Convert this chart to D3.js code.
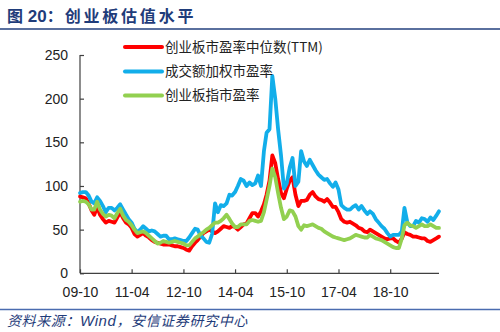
<!DOCTYPE html>
<html><head><meta charset="utf-8">
<script src="https://cdn.jsdelivr.net/npm/d3@7"></script>
<style>
html,body{margin:0;padding:0;background:#fff;}
svg{display:block;}
</style></head>
<body>
<script>
// ---- data (monthly, starting 2009-10) ----
const startMonth = "2009-10";
const medianPE = [88,87,86,80,72,67,76,67,62,58,60,59,58,64,70,63,58,56,52,45,42,44,46,43,41,38,36,35,34,33,33,33,32,31,31,30,29,27,26,31,35,38,42,46,48,50,48,46,48,51,54,53,52,54,53,50,53,56,57,63,69,69,65,71,79,90,106,135,126,108,92,86,97,106,110,90,77,83,83,84,90,93,88,85,84,82,85,81,76,76,70,62,59,58,59,57,55,52,51,48,47,50,48,46,44,42,40,39,40,40,37,35,40,47,45,44,42,42,41,40,40,37,36,38,40,42];
const turnoverPE = [92,93,93,89,82,80,87,83,77,70,75,75,72,75,79,73,67,62,58,51,47,50,54,51,48,49,48,45,42,43,43,39,39,40,39,38,37,37,41,46,51,50,43,40,36,35,45,80,70,78,77,80,90,89,93,100,108,106,100,104,101,103,112,100,140,161,165,226,200,165,135,97,103,121,132,100,105,140,128,123,130,124,118,113,110,107,108,103,99,104,96,78,75,73,73,76,78,73,77,72,68,71,68,62,58,54,51,46,42,44,44,44,48,75,58,54,54,60,58,63,62,59,64,61,66,71];
const indexPE = [82,83,82,79,73,73,82,73,68,65,67,66,63,69,74,66,61,59,55,50,46,47,48,46,43,40,37,34,35,37,36,35,36,37,36,35,34,32,32,36,40,42,45,47,50,52,55,58,58,60,63,67,62,57,53,53,56,56,56,60,61,60,59,60,70,84,100,120,110,92,75,62,65,72,71,65,54,50,55,54,55,56,54,52,51,48,46,44,42,41,40,39,38,39,40,42,44,43,42,41,41,44,42,40,39,38,36,34,32,30,29,29,40,55,58,55,54,52,54,56,54,54,56,54,52,52];
const seriesNames = ["创业板市盈率中位数(TTM)","成交额加权市盈率","创业板指市盈率"];
const seriesColors = ["#FF0000","#12AEEA","#92D050"];
const xTickLabels = ["09-10","11-04","12-10","14-04","15-10","17-04","18-10"];
const yTicks = [0,50,100,150,200,250];
const titleText = ["图 20：","创业板估值水平"];
const sourceText = ["资料来源：","Wind","，安信证券研究中心"];

const W = 500, H = 332;
const svg = d3.select("body").append("svg").attr("width",W).attr("height",H);

const parseM = d3.timeParse("%Y-%m");
const start = parseM(startMonth);
const dates = medianPE.map((_,i)=>d3.timeMonth.offset(start,i));
const x = d3.scaleTime().domain([start, dates[dates.length-1]]).range([80,439]);
const y = d3.scaleLinear().domain([0,250]).range([273.3,55]);

// title
const t = svg.append("text").attr("x",7).attr("y",22)
  .attr("font-family","'Noto Sans CJK SC', sans-serif").attr("font-weight","bold")
  .attr("font-size",16).attr("fill","#1F3C7A");
t.append("tspan").text(titleText[0].slice(0,1));
t.append("tspan").attr("font-family","Arial, 'Liberation Sans', sans-serif").attr("font-size",17).text(" 20");
t.append("tspan").text("：");
t.append("tspan").attr("dx",2).attr("letter-spacing",2.8).text(titleText[1]);
svg.append("line").attr("x1",0).attr("x2",W).attr("y1",29).attr("y2",29)
  .attr("stroke","#23407E").attr("stroke-width",1.6);

// axes
const gy = svg.append("g").attr("transform","translate(80,0)")
  .call(d3.axisLeft(y).tickValues(yTicks).tickSize(-4).tickPadding(10));
const xTicks = xTickLabels.map(s=>d3.timeParse("%y-%m")(s));
const gx = svg.append("g").attr("transform","translate(0,273.3)")
  .call(d3.axisBottom(x).tickValues(xTicks).tickFormat(d3.timeFormat("%y-%m")).tickSize(-4).tickPadding(10));
[gx,gy].forEach(g=>{
  g.select(".domain").attr("stroke","#404040").attr("stroke-width",1.2);
  g.selectAll(".tick line").attr("stroke","#404040").attr("stroke-width",1.2);
  g.selectAll("text").attr("font-family","Arial, 'Liberation Sans', sans-serif")
    .attr("font-size",14).attr("fill","#222");
});
gx.select(".domain").attr("d","M80,0H439");
gy.select(".domain").attr("d","M0,273.3V55");
gx.selectAll("text").attr("dy","0.95em");
gy.selectAll("text").attr("dx","-2");

// lines
const allSeries = [medianPE, turnoverPE, indexPE];
const line = d3.line().x((d,i)=>x(dates[i])).y(d=>y(d)).curve(d3.curveLinear);
allSeries.forEach((s,k)=>{
  svg.append("path").datum(s).attr("d",line).attr("fill","none")
    .attr("stroke",seriesColors[k]).attr("stroke-width",3.8)
    .attr("stroke-linejoin","round").attr("stroke-linecap","round");
});

// legend
const legY = [47,71.5,95.5];
seriesNames.forEach((n,k)=>{
  svg.append("line").attr("x1",125).attr("x2",162).attr("y1",legY[k]).attr("y2",legY[k])
    .attr("stroke",seriesColors[k]).attr("stroke-width",4).attr("stroke-linecap","round");
  svg.append("text").attr("x",165).attr("y",legY[k]).attr("dy","0.36em")
    .attr("font-family","'Noto Sans CJK SC', sans-serif").attr("font-size",13.5)
    .attr("fill","#222").text(n);
});

// source
svg.append("line").attr("x1",0).attr("x2",W).attr("y1",309.5).attr("y2",309.5)
  .attr("stroke","#4A6CB0").attr("stroke-width",1.4);
const st = svg.append("text").attr("x",7).attr("y",326).attr("font-size",14)
  .attr("font-style","italic").attr("fill","#1F3C7A").attr("letter-spacing",0.6)
  .attr("font-family","'Noto Sans CJK SC', sans-serif");
st.append("tspan").text(sourceText[0]);
st.append("tspan").attr("font-family","Arial, 'Liberation Sans', sans-serif").attr("font-size",15).text(sourceText[1]);
st.append("tspan").text(sourceText[2]);
</script>
</body></html>
